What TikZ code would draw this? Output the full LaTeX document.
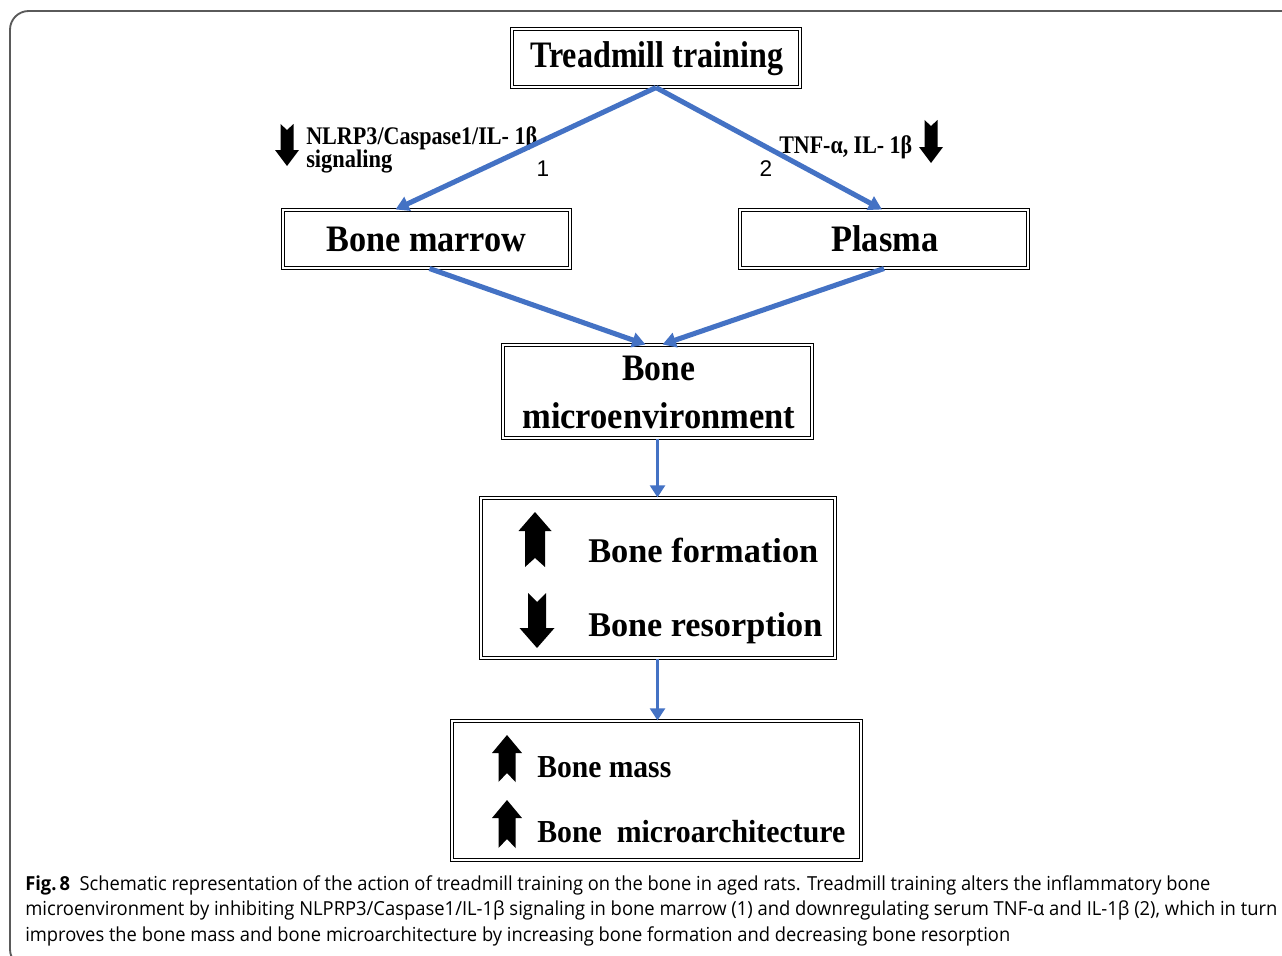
\documentclass[tikz,border=0pt]{standalone}
\usepackage{fontspec}
\usepackage{graphicx}
\usetikzlibrary{arrows.meta,calc}
\newfontfamily\serifb{Liberation Serif}
\newfontfamily\capf{Open Sans}
\newfontfamily\numf{Liberation Sans}
\definecolor{arrowblue}{RGB}{68,114,196}
\definecolor{framegray}{RGB}{90,90,90}
\newdimen\pxu \pxu=0.75pt
% fit text: width in px, size in pt, text
\newcommand\fw[3]{\resizebox{#1\pxu}{\height}{\fontsize{#2pt}{#2pt}\selectfont #3}}
\newcommand\blkup[7]{\fill (#1,#2) -- ({#1+#4},{#2+#6}) -- ({#1+#5},{#2+#6}) -- ({#1+#5},#3) -- (#1,{#3-#7}) -- ({#1-#5},#3) -- ({#1-#5},{#2+#6}) -- ({#1-#4},{#2+#6}) -- cycle;}
\newcommand\blkdown[7]{\fill (#1,#3) -- ({#1+#4},{#3-#6}) -- ({#1+#5},{#3-#6}) -- ({#1+#5},#2) -- (#1,{#2+#7}) -- ({#1-#5},#2) -- ({#1-#5},{#3-#6}) -- ({#1-#4},{#3-#6}) -- cycle;}
\tikzset{
  box/.style={draw=black, line width=0.8pt, double=white, double distance=1.8pt, inner sep=0pt, fill=white},
  lbl/.style={inner sep=0pt, anchor=base west, font=\serifb\bfseries},
  flow/.style={draw=arrowblue, line width=3.8pt, -{Triangle[length=10pt,width=11pt]}},
  vflow/.style={draw=arrowblue, line width=2.2pt, -{Triangle[length=9pt,width=11pt]}},
  captxt/.style={inner sep=0pt, anchor=base west, font=\capf},
}
\begin{document}
\begin{tikzpicture}[x=0.75pt,y=-0.75pt]
\useasboundingbox (0,0) rectangle (1282,956);
\clip (0,0) rectangle (1282,956);
% frame
\draw[framegray, line width=1.4pt, rounded corners=14pt] (1300,11) -- (10,11) -- (10,968) -- (60,968);

% boxes
\node[box, minimum width=216pt, minimum height=43.5pt] (tt) at (656,58) {};
\node[box, minimum width=215.25pt, minimum height=43.5pt] (bm) at (426.5,239) {};
\node[box, minimum width=216pt, minimum height=43.5pt] (pl) at (884,239) {};
\node[box, minimum width=231.75pt, minimum height=69.75pt] (me) at (657.5,391.5) {};
\node[box, minimum width=265.5pt, minimum height=120pt] (bf) at (658,578) {};
\node[box, minimum width=306.75pt, minimum height=104.25pt] (bmm) at (656.5,790.5) {};

% box texts
\node[lbl] (ttt) at (530,68) {\fw{253}{28}{Treadmill training}};
\node[lbl] (bmt) at (326,251) {\fw{200}{28}{Bone marrow}};
\node[lbl] (plt) at (831,251) {\fw{107}{28}{Plasma}};
\node[lbl] (met1) at (622,380) {\fw{73}{28}{Bone}};
\node[lbl] (met2) at (522,428) {\fw{273}{28}{microenvironment}};
\node[lbl] (bft) at (588,562) {\fw{230}{26}{Bone formation}};
\node[lbl] (brt) at (588,636) {\fw{234}{26}{Bone resorption}};
\node[lbl] (bmst) at (537,777) {\fw{134}{24}{Bone mass}};
\node[lbl] (bmat) at (537,842) {\fw{308}{24}{Bone\ \ microarchitecture}};

% block arrows
\blkup{535}{512}{567}{16.5}{10}{19}{9}
\blkdown{537}{593}{648}{17.5}{9}{20}{9}
\blkup{507}{735}{782}{15}{8.5}{18}{9}
\blkup{507}{800}{848}{15}{8.5}{18}{9}
\blkdown{287}{124}{166}{12}{6.5}{16}{6}
\blkdown{931}{120}{163}{12}{6.5}{16}{6}

% side labels
\node[lbl] (l1a) at (306,144) {\fw{231}{19}{NLRP3/Caspase1/IL- 1β}};
\node[lbl] (l1b) at (306,167) {\fw{86}{19}{signaling}};
\node[lbl] (l2) at (779,153) {\fw{133}{19}{TNF-α, IL- 1β}};
\node[inner sep=0pt, anchor=base, font=\numf] (n1) at (543,176) {\fontsize{17pt}{17pt}\selectfont 1};
\node[inner sep=0pt, anchor=base, font=\numf] (n2) at (766,176) {\fontsize{17pt}{17pt}\selectfont 2};

% connectors
\draw[flow] (tt.south) -- ($(bm.north)+(-31,0)$);
\draw[flow] (tt.south) -- ($(pl.north)+(-2,0)$);
\draw[flow] ($(bm.south)+(3,0)$) -- ($(me.north)+(-12,0)$);
\draw[flow] (pl.south) -- ($(me.north)+(5,0)$);
\draw[vflow] (me.south) -- (me.south |- bf.north);
\draw[vflow] (bf.south -| me.south) -- (me.south |- bmm.north);

% caption
\node[captxt] (c1) at (25,890) {\resizebox{1185\pxu}{\height}{\fontsize{14.5pt}{14.5pt}\selectfont{\bfseries Fig.\,8}\ \ Schematic representation of the action of treadmill training on the bone in aged rats. Treadmill training alters the inflammatory bone}};
\node[captxt] (c2) at (25,915) {\resizebox{1252\pxu}{\height}{\fontsize{14.5pt}{14.5pt}\selectfont microenvironment by inhibiting NLPRP3/Caspase1/IL-1β signaling in bone marrow (1) and downregulating serum TNF-α and IL-1β (2), which in turn}};
\node[captxt] (c3) at (25,941) {\resizebox{985\pxu}{\height}{\fontsize{14.5pt}{14.5pt}\selectfont improves the bone mass and bone microarchitecture by increasing bone formation and decreasing bone resorption}};
\end{tikzpicture}
\end{document}
